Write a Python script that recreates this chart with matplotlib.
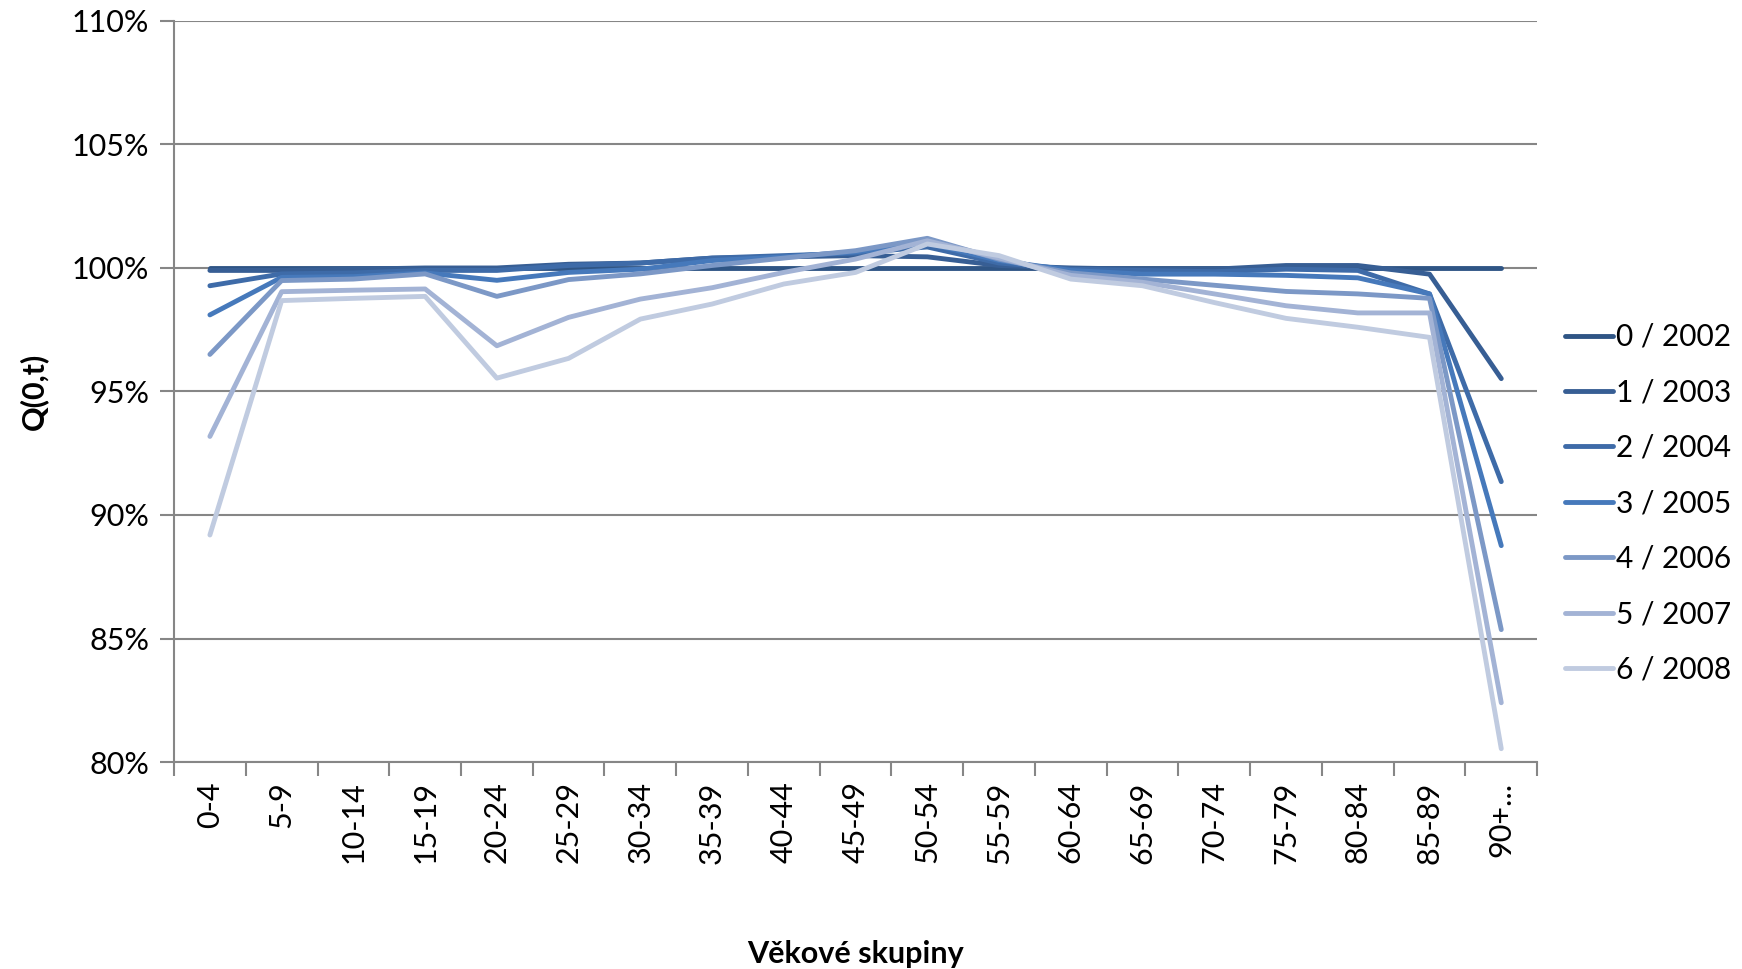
import matplotlib
matplotlib.use("Agg")
import matplotlib.pyplot as plt
from matplotlib.ticker import FixedLocator, PercentFormatter

plt.rcParams['font.family'] = ['Lato', 'DejaVu Sans']

age_groups = ["0-4", "5-9", "10-14", "15-19", "20-24", "25-29", "30-34", "35-39",
              "40-44", "45-49", "50-54", "55-59", "60-64", "65-69", "70-74",
              "75-79", "80-84", "85-89", "90+..."]

series_labels = ["0 / 2002", "1 / 2003", "2 / 2004", "3 / 2005",
                 "4 / 2006", "5 / 2007", "6 / 2008"]

q_2002 = [100.0] * 19
q_2003 = [99.9, 99.9, 99.95, 100.0, 100.0, 100.15, 100.2, 100.4, 100.45, 100.5,
          100.45, 100.1, 100.0, 99.95, 99.95, 100.1, 100.1, 99.75, 95.52]
q_2004 = [99.28, 99.76, 99.8, 99.9, 99.9, 100.1, 100.2, 100.4, 100.5, 100.6,
          100.85, 100.2, 99.95, 99.9, 99.85, 99.95, 99.9, 98.95, 91.35]
q_2005 = [98.1, 99.62, 99.65, 99.8, 99.5, 99.82, 99.95, 100.3, 100.45, 100.65,
          101.0, 100.3, 99.9, 99.75, 99.75, 99.7, 99.6, 98.95, 88.76]
q_2006 = [96.5, 99.49, 99.55, 99.76, 98.85, 99.53, 99.76, 100.1, 100.4, 100.7,
          101.2, 100.35, 99.8, 99.55, 99.3, 99.05, 98.95, 98.77, 85.36]
q_2007 = [93.18, 99.04, 99.1, 99.15, 96.85, 98.0, 98.74, 99.2, 99.82, 100.36,
          101.1, 100.4, 99.7, 99.42, 98.95, 98.47, 98.18, 98.18, 82.4]
q_2008 = [89.19, 98.68, 98.77, 98.85, 95.54, 96.34, 97.93, 98.54, 99.35, 99.82,
          100.97, 100.5, 99.55, 99.28, 98.6, 97.96, 97.6, 97.19, 80.54]

all_series = [q_2002, q_2003, q_2004, q_2005, q_2006, q_2007, q_2008]
colors = ["#2f5585", "#375e94", "#3e6ba8", "#4679bb", "#7c98c6", "#a3b3d5", "#c0cbe0"]

fig = plt.figure(figsize=(17.42, 9.69), dpi=100)
ax = fig.add_axes([0.0999, 0.2136, 0.7825, 0.7648])

x = range(len(age_groups))
for vals, lab, col in zip(all_series, series_labels, colors):
    ax.plot(x, vals, color=col, lw=3.5, label=lab, solid_capstyle='round',
            solid_joinstyle='round')

ax.set_xlim(-0.5, len(age_groups) - 0.5)
ax.set_ylim(80, 110)
ax.set_yticks(range(80, 111, 5))
ax.yaxis.set_major_formatter(PercentFormatter(decimals=0))
ax.grid(axis='y', color='#868686', lw=1.5)
ax.set_axisbelow(True)

# category labels at centres, tick marks at category boundaries
ax.set_xticks(list(x))
ax.set_xticklabels(age_groups, rotation=90, fontsize=22)
ax.xaxis.set_minor_locator(FixedLocator([i - 0.5 for i in range(len(age_groups) + 1)]))
ax.tick_params(axis='x', which='major', length=0, pad=14)
ax.tick_params(axis='x', which='minor', length=10, width=1.5, color='#868686')
ax.tick_params(axis='y', length=10, width=1.5, color='#868686', labelsize=22, pad=8)

for side in ['top', 'right']:
    ax.spines[side].set_visible(False)
for side in ['left', 'bottom']:
    ax.spines[side].set_color('#868686')
    ax.spines[side].set_linewidth(1.5)

ax.set_ylabel("Q(0,t)", fontsize=22, fontweight='bold', labelpad=17)
ax.set_xlabel("Věkové skupiny", fontsize=22, fontweight='bold', labelpad=55)

leg = ax.legend(loc='center left', bbox_to_anchor=(1.005, 0.349), frameon=False,
                fontsize=21.5, handlelength=1.6, handletextpad=0.12,
                labelspacing=0.92, borderaxespad=0.3)

fig.savefig("out.png", dpi=100)
